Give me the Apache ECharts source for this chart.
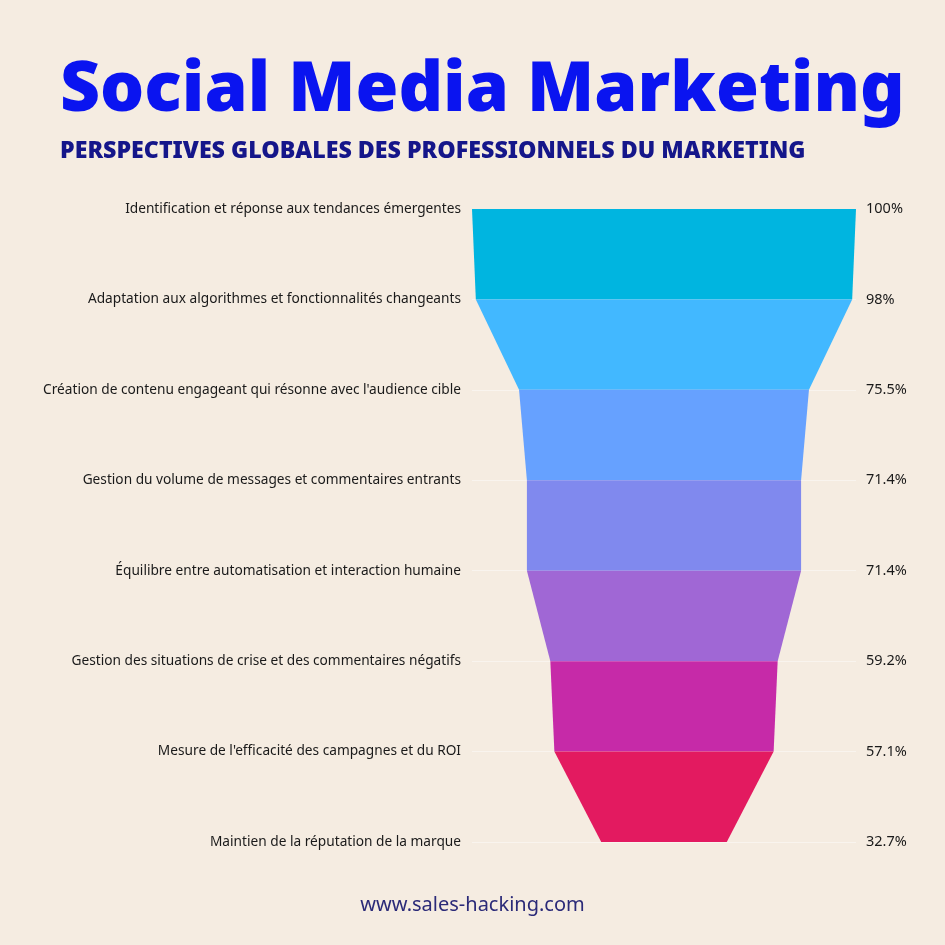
<!DOCTYPE html>
<html>
<head>
<meta charset="utf-8">
<script src="https://cdn.jsdelivr.net/npm/echarts@6/dist/echarts.min.js"></script>
<style>
  html, body { margin: 0; padding: 0; background: #f5ece1; }
  #chart { width: 945px; height: 945px; }
</style>
</head>
<body>
<div id="chart"></div>
<script>
const categories = [
  "Identification et réponse aux tendances émergentes",
  "Adaptation aux algorithmes et fonctionnalités changeants",
  "Création de contenu engageant qui résonne avec l'audience cible",
  "Gestion du volume de messages et commentaires entrants",
  "Équilibre entre automatisation et interaction humaine",
  "Gestion des situations de crise et des commentaires négatifs",
  "Mesure de l'efficacité des campagnes et du ROI",
  "Maintien de la réputation de la marque",
];
const values = [100, 98, 75.5, 71.4, 71.4, 59.2, 57.1, 32.7];
const pctLabels = ["100%", "98%", "75.5%", "71.4%", "71.4%", "59.2%", "57.1%", "32.7%"];
const colors = ["#00b5e0", "#42b8ff", "#66a1ff", "#8089ee", "#a067d5", "#c62aa8", "#e31a60"];

// one trapezoid between each pair of consecutive points
const segments = [];
for (let i = 0; i < values.length - 1; i++) {
  segments.push([i, values[i], values[i + 1]]);
}

const chart = echarts.init(document.getElementById("chart"));
const option = {
  backgroundColor: "#f5ece1",
  textStyle: { fontFamily: "Noto Sans" },
  title: [
    {
      text: "Social Media Marketing",
      left: 55,
      top: 51,
      textStyle: { fontFamily: "Noto Sans", fontSize: 69.5, fontWeight: 900, color: "#0a14f0" },
    },
    {
      text: "PERSPECTIVES GLOBALES DES PROFESSIONNELS DU MARKETING",
      left: 55,
      top: 135,
      textStyle: { fontFamily: "Noto Sans", fontSize: 23.2, fontWeight: 900, color: "#15168a" },
    },
    {
      text: "www.sales-hacking.com",
      left: "center",
      top: 890,
      textStyle: { fontFamily: "Noto Sans", fontSize: 20, fontWeight: "normal", color: "#2b2a78" },
    },
  ],
  grid: { left: 472, right: 89, top: 209, bottom: 103 },
  xAxis: { type: "value", min: -50, max: 50, show: false },
  yAxis: [
    {
      type: "category",
      data: categories,
      inverse: true,
      boundaryGap: false,
      axisLine: { show: false },
      axisTick: { show: false },
      splitLine: { show: true, lineStyle: { color: "rgba(255,255,255,0.45)", width: 1 } },
      axisLabel: { margin: 11, fontSize: 13.7, color: "#1a1a1a", interval: 0, padding: [3, 0, 0, 0] },
    },
    {
      type: "category",
      data: pctLabels,
      inverse: true,
      boundaryGap: false,
      position: "right",
      axisLine: { show: false },
      axisTick: { show: false },
      axisLabel: { margin: 10, fontSize: 14.5, color: "#1a1a1a", interval: 0, padding: [3, 0, 0, 0] },
    },
  ],
  series: [
    {
      type: "custom",
      data: segments,
      encode: { x: [1, 2], y: 0 },
      renderItem: function (params, api) {
        const i = api.value(0);
        const a = api.value(1);
        const b = api.value(2);
        const pts = [
          api.coord([-a / 2, i]),
          api.coord([a / 2, i]),
          api.coord([b / 2, i + 1]),
          api.coord([-b / 2, i + 1]),
        ];
        return {
          type: "polygon",
          shape: { points: pts },
          style: { fill: colors[i] },
        };
      },
    },
  ],
};
chart.setOption(option);
</script>
</body>
</html>
